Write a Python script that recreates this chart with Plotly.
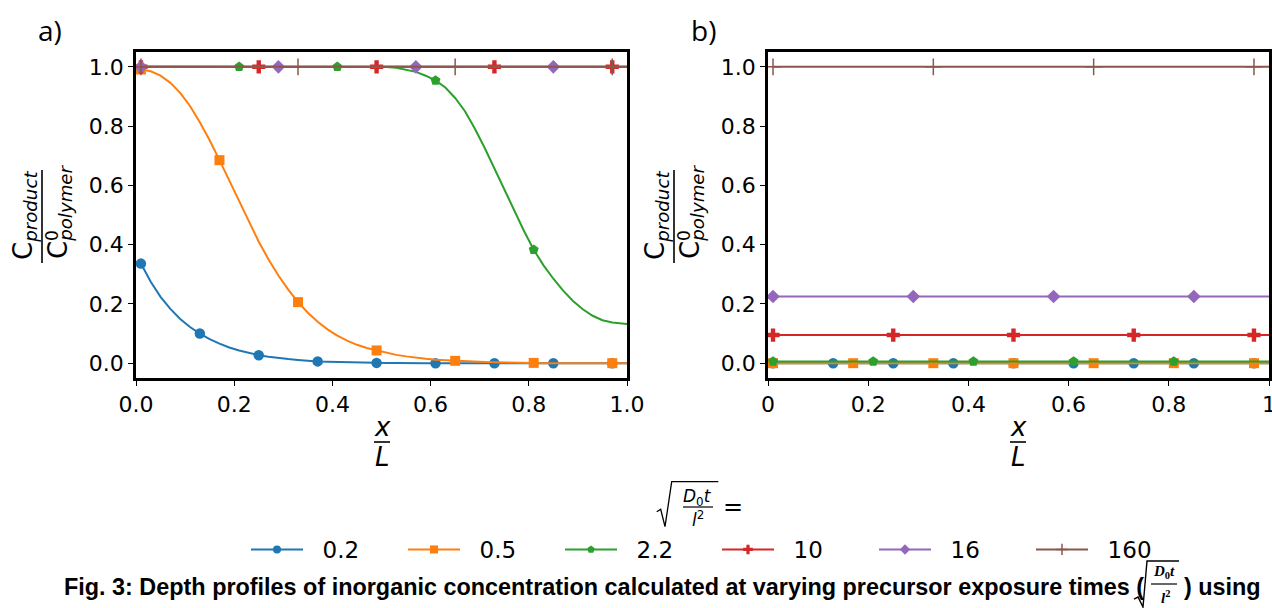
import plotly.graph_objects as go

# ---------------- data ----------------
x_grid = [0.01, 0.03, 0.05, 0.07, 0.09, 0.11, 0.13, 0.15, 0.17, 0.19,
          0.21, 0.23, 0.25, 0.27, 0.29, 0.31, 0.33, 0.35, 0.37, 0.39,
          0.41, 0.43, 0.45, 0.47, 0.49, 0.51, 0.53, 0.55, 0.57, 0.59,
          0.61, 0.63, 0.65, 0.67, 0.69, 0.71, 0.73, 0.75, 0.77, 0.79,
          0.81, 0.83, 0.85, 0.87, 0.89, 0.91, 0.93, 0.95, 0.97, 0.99, 1.00]

series_names = ["0.2", "0.5", "2.2", "10", "16", "160"]

# panel a)
a_02 = [0.336, 0.275, 0.224, 0.183, 0.149, 0.122, 0.100, 0.081, 0.066, 0.053,
        0.043, 0.034, 0.027, 0.022, 0.017, 0.014, 0.011, 0.008, 0.006, 0.005,
        0.004, 0.003, 0.002, 0.002, 0.001, 0.001, 0.001, 0.0, 0.0, 0.0,
        0.0, 0.0, 0.0, 0.0, 0.0, 0.0, 0.0, 0.0, 0.0, 0.0,
        0.0, 0.0, 0.0, 0.0, 0.0, 0.0, 0.0, 0.0, 0.0, 0.0, 0.0]
a_05 = [0.991, 0.985, 0.970, 0.946, 0.912, 0.868, 0.813, 0.752, 0.685, 0.615,
        0.545, 0.476, 0.410, 0.350, 0.296, 0.248, 0.206, 0.170, 0.140, 0.114,
        0.093, 0.076, 0.062, 0.051, 0.043, 0.035, 0.028, 0.023, 0.018, 0.015,
        0.012, 0.010, 0.008, 0.006, 0.005, 0.004, 0.003, 0.002, 0.002, 0.001,
        0.001, 0.0, 0.0, 0.0, 0.0, 0.0, 0.0, 0.0, 0.0, 0.0, 0.0]
a_22 = [1.0, 1.0, 1.0, 1.0, 1.0, 1.0, 1.0, 1.0, 1.0, 1.0,
        1.0, 1.0, 1.0, 1.0, 1.0, 1.0, 1.0, 1.0, 1.0, 1.0,
        1.0, 1.0, 1.0, 1.0, 1.0, 0.999, 0.997, 0.991, 0.983, 0.970,
        0.954, 0.930, 0.895, 0.850, 0.792, 0.727, 0.657, 0.586, 0.515, 0.447,
        0.383, 0.330, 0.285, 0.245, 0.210, 0.182, 0.160, 0.145, 0.137, 0.133, 0.132]
a_10 = [1.0] * len(x_grid)
a_16 = [1.0] * len(x_grid)
a_160 = [1.0] * len(x_grid)

# panel b)
b_02 = [0.0] * len(x_grid)
b_05 = [0.0] * len(x_grid)
b_22 = [0.006] * len(x_grid)
b_10 = [0.095] * len(x_grid)
b_16 = [0.225] * len(x_grid)
b_160 = [1.0] * len(x_grid)

marker_every = [6, 8, 10, 12, 14, 16]

a_ticks = [0.0, 0.2, 0.4, 0.6, 0.8, 1.0]
a_xticklabels = ["0.0", "0.2", "0.4", "0.6", "0.8", "1.0"]
b_xticklabels = ["0", "0.2", "0.4", "0.6", "0.8", "1"]
y_ticks = [0.0, 0.2, 0.4, 0.6, 0.8, 1.0]
y_ticklabels = ["0.0", "0.2", "0.4", "0.6", "0.8", "1.0"]

# ---------------- style ----------------
colors = ["#1f77b4", "#ff7f0e", "#2ca02c", "#d62728", "#9467bd", "#8c564b"]
symbols = ["circle", "square", "pentagon", "cross", "diamond", "cross-thin"]
msizes = [10.5, 10, 10.5, 11, 10.5, 12]

W, H = 1272, 608


def fx(p):
    return p / W


def fy(p):
    return 1 - p / H


FONT = "DejaVu Sans"

fig = go.Figure()

panels = [("x", "y", [a_02, a_05, a_22, a_10, a_16, a_160]),
          ("x2", "y2", [b_02, b_05, b_22, b_10, b_16, b_160])]

n_m = len(x_grid) - 1
for xa, ya, data in panels:
    for i, vals in enumerate(data):
        fig.add_trace(go.Scatter(
            x=x_grid, y=vals, mode="lines", xaxis=xa, yaxis=ya,
            line=dict(color=colors[i], width=2), showlegend=False,
            hoverinfo="skip"))
        step = marker_every[i]
        thin = symbols[i] == "cross-thin"
        fig.add_trace(go.Scatter(
            x=x_grid[:n_m:step], y=vals[:n_m:step], mode="markers",
            xaxis=xa, yaxis=ya, showlegend=False, hoverinfo="skip",
            marker=dict(symbol=symbols[i], size=msizes[i], color=colors[i],
                        line=dict(color=colors[i], width=1.5 if thin else 0))))

for i, name in enumerate(series_names):
    thin = symbols[i] == "cross-thin"
    fig.add_trace(go.Scatter(
        x=[None], y=[None], mode="lines+markers", name="\u00a0\u00a0" + name,
        line=dict(color=colors[i], width=2),
        marker=dict(symbol=symbols[i], size=8, color=colors[i],
                    line=dict(color=colors[i], width=1.5 if thin else 0))))

axis_common = dict(showline=True, linewidth=2.5, linecolor="black", mirror=True,
                   ticks="outside", ticklen=5, tickwidth=1.2, tickcolor="black",
                   showgrid=False, zeroline=False, automargin=False,
                   ticklabeloverflow="allow",
                   tickfont=dict(family=FONT, size=22, color="black"))

fig.update_layout(
    template="none",
    width=W, height=H, autosize=False,
    margin=dict(l=0, r=0, t=0, b=0),
    paper_bgcolor="white", plot_bgcolor="white",
    xaxis=dict(domain=[fx(136), fx(627)], range=[0, 1], anchor="y",
               tickvals=a_ticks, ticktext=a_xticklabels, **axis_common),
    yaxis=dict(domain=[fy(378), fy(52)], range=[-0.05, 1.05], anchor="x",
               tickvals=y_ticks, ticktext=y_ticklabels, **axis_common),
    xaxis2=dict(domain=[fx(768), fx(1269)], range=[0, 1], anchor="y2",
                tickvals=a_ticks, ticktext=b_xticklabels, **axis_common),
    yaxis2=dict(domain=[fy(378), fy(52)], range=[-0.05, 1.05], anchor="x2",
                tickvals=y_ticks, ticktext=y_ticklabels, **axis_common),
    legend=dict(orientation="h", x=fx(246), y=fy(528), xanchor="left",
                yanchor="top", font=dict(family=FONT, size=23, color="black"),
                itemwidth=52, entrywidth=90, bgcolor="rgba(0,0,0,0)",
                tracegroupgap=0),
    showlegend=True,
)

ann = []
shapes = []


def text(x, y, t, size, family=FONT, angle=0, xanchor="center", yanchor="middle", color="black"):
    ann.append(dict(x=fx(x), y=fy(y), xref="paper", yref="paper", text=t,
                    showarrow=False, textangle=angle, xanchor=xanchor,
                    yanchor=yanchor, font=dict(family=family, size=size, color=color)))


def hline(x0, x1, y, w=1.5):
    shapes.append(dict(type="line", xref="paper", yref="paper",
                       x0=fx(x0), x1=fx(x1), y0=fy(y), y1=fy(y),
                       line=dict(color="black", width=w)))


def vline(x, y0, y1, w=1.5):
    shapes.append(dict(type="line", xref="paper", yref="paper",
                       x0=fx(x), x1=fx(x), y0=fy(y0), y1=fy(y1),
                       line=dict(color="black", width=w)))


def path(pts, w=1.3):
    d = "M " + " L ".join(f"{fx(a):.5f},{fy(b):.5f}" for a, b in pts)
    shapes.append(dict(type="path", xref="paper", yref="paper", path=d,
                       line=dict(color="black", width=w)))


# panel labels
text(50, 30, "a)", 28, family="Open Sans")
text(703, 30, "b)", 28, family="Open Sans")

# y axis titles (fraction)
for off in (0, 632):
    text(24 + off, 216, "C<sub><i>product</i></sub>", 26, angle=-90)
    vline(42 + off, 170, 263, w=1.6)
    text(60 + off, 212, "C<sub><i>polymer</i></sub>", 26, angle=-90)
    text(52 + off, 236, "0", 17, angle=-90)

# x axis titles (fraction)
for cx in (382, 1018):
    text(cx, 427, "<i>x</i>", 26)
    hline(cx - 8, cx + 8, 442, w=1.6)
    text(cx, 457, "<i>L</i>", 26)

# legend title: sqrt(D0 t / l^2) =
path([(656.7, 511.7), (660.7, 509.3), (665, 526.7), (671.7, 481.7), (718.3, 481.7)], w=1.3)
text(697, 497, "<i>D</i><sub>0</sub><i>t</i>", 17)
hline(683, 713, 507, w=1.2)
text(698, 519, "<i>l</i><sup>2</sup>", 17)
text(733, 507, "=", 24)

# caption
CAP = "Liberation Sans"
text(62, 587, "<b>Fig. 3: Depth profiles of inorganic concentration calculated at "
     "varying precursor exposure times (</b>", 23.4, family=CAP, xanchor="left")
path([(1134, 599), (1138, 597), (1143, 607), (1147, 561), (1179, 561)], w=1.4)
text(1164, 572, "<b><i>D</i><sub>0</sub><i>t</i></b>", 15, family="Liberation Serif")
hline(1151, 1177, 584, w=1.2)
text(1165, 597, "<b><i>l</i><sup>2</sup></b>", 15, family="Liberation Serif")
text(1182, 587, "<b>) using</b>", 23.4, family=CAP, xanchor="left")

fig.update_layout(annotations=ann, shapes=shapes)
fig.write_html("out.html", config={"displayModeBar": False},
               post_script="document.body.style.margin='0';document.body.style.overflow='hidden';")
